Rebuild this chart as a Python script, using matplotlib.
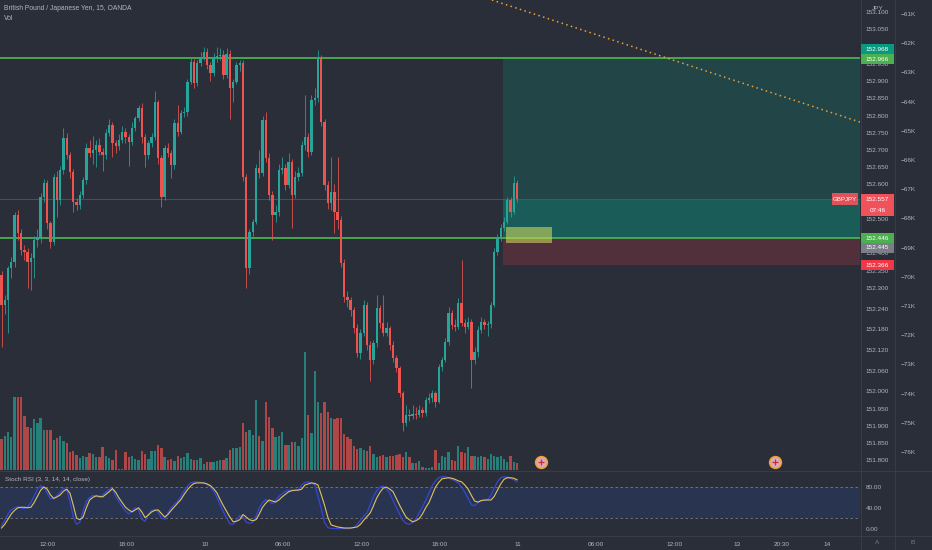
import matplotlib
matplotlib.use("Agg")
import matplotlib.pyplot as plt
import matplotlib.transforms as mtransforms
from matplotlib.patches import Rectangle
from matplotlib.lines import Line2D
import numpy as np

plt.rcParams['font.family'] = ['Liberation Sans', 'DejaVu Sans']

BG = '#2a2e39'
TXT = '#b2b5be'
UP = '#26a69a'
DN = '#ef5350'
LINE = '#3b3f4b'

# ---- GBPJPY 15m candles ----
first_open = 152.338
closes = [
    152.251, 152.265, 152.358, 152.375, 152.512, 152.459, 152.410, 152.404, 152.375, 152.387,
    152.439, 152.445, 152.564, 152.604, 152.488, 152.433, 152.622, 152.555, 152.642, 152.735,
    152.686, 152.636, 152.549, 152.541, 152.570, 152.613, 152.706, 152.691, 152.700, 152.714,
    152.694, 152.686, 152.749, 152.772, 152.720, 152.712, 152.729, 152.752, 152.738, 152.723,
    152.764, 152.793, 152.822, 152.738, 152.686, 152.720, 152.738, 152.839, 152.677, 152.564,
    152.706, 152.691, 152.657, 152.778, 152.752, 152.807, 152.810, 152.897, 152.955, 152.894,
    152.952, 152.967, 152.984, 152.946, 152.923, 152.967, 152.972, 152.975, 152.917, 152.978,
    152.880, 152.897, 152.946, 152.952, 152.622, 152.358, 152.462, 152.491, 152.648, 152.633,
    152.787, 152.677, 152.570, 152.512, 152.520, 152.642, 152.648, 152.599, 152.665, 152.570,
    152.622, 152.633, 152.714, 152.738, 152.694, 152.845, 152.851, 152.967, 152.781, 152.599,
    152.546, 152.578, 152.520, 152.497, 152.372, 152.274, 152.265, 152.236, 152.184, 152.112,
    152.170, 152.251, 152.135, 152.091, 152.141, 152.242, 152.199, 152.170, 152.184, 152.135,
    152.097, 152.068, 151.996, 151.909, 151.932, 151.930, 151.935, 151.932, 151.946, 151.938,
    151.975, 151.981, 151.996, 151.970, 152.071, 152.091, 152.143, 152.228, 152.193, 152.187,
    152.257, 152.199, 152.187, 152.201, 152.091, 152.114, 152.178, 152.201, 152.193, 152.195,
    152.251, 152.404, 152.445, 152.474, 152.491, 152.555, 152.520, 152.604, 152.557,
]
highs = [
    152.350, 152.280, 152.365, 152.390, 152.520, 152.525, 152.470, 152.425, 152.415, 152.400,
    152.450, 152.470, 152.575, 152.615, 152.612, 152.495, 152.630, 152.640, 152.655, 152.765,
    152.748, 152.695, 152.645, 152.560, 152.580, 152.622, 152.720, 152.730, 152.740, 152.730,
    152.735, 152.705, 152.760, 152.790, 152.782, 152.730, 152.745, 152.770, 152.765, 152.745,
    152.780, 152.800, 152.830, 152.835, 152.745, 152.730, 152.750, 152.870, 152.845, 152.685,
    152.715, 152.720, 152.700, 152.790, 152.830, 152.815, 152.825, 152.905, 152.970, 152.965,
    152.960, 152.985, 153.000, 152.995, 152.955, 152.980, 152.998, 152.995, 152.990, 152.995,
    152.990, 152.905, 152.955, 152.960, 152.960, 152.630, 152.470, 152.500, 152.660, 152.700,
    152.800, 152.810, 152.690, 152.580, 152.540, 152.660, 152.680, 152.660, 152.690, 152.675,
    152.640, 152.650, 152.725, 152.860, 152.750, 152.860, 152.880, 152.990, 152.975, 152.790,
    152.610, 152.680, 152.600, 152.680, 152.510, 152.385, 152.290, 152.275, 152.245, 152.195,
    152.180, 152.265, 152.260, 152.145, 152.150, 152.280, 152.250, 152.280, 152.200, 152.190,
    152.145, 152.105, 152.075, 152.000, 151.960, 151.950, 151.960, 151.955, 151.960, 151.955,
    151.985, 151.995, 152.005, 152.000, 152.080, 152.100, 152.155, 152.245, 152.235, 152.210,
    152.270, 152.380, 152.210, 152.215, 152.210, 152.130, 152.190, 152.215, 152.210, 152.205,
    152.260, 152.415, 152.455, 152.485, 152.505, 152.565, 152.565, 152.625, 152.612,
]
lows = [
    152.130, 152.225, 152.170, 152.330, 152.360, 152.440, 152.395, 152.380, 152.300, 152.295,
    152.330, 152.420, 152.430, 152.550, 152.470, 152.415, 152.425, 152.505, 152.540, 152.630,
    152.675, 152.620, 152.520, 152.525, 152.530, 152.560, 152.600, 152.680, 152.660, 152.650,
    152.685, 152.640, 152.675, 152.740, 152.680, 152.690, 152.700, 152.720, 152.720, 152.655,
    152.715, 152.755, 152.785, 152.720, 152.650, 152.675, 152.710, 152.730, 152.660, 152.535,
    152.555, 152.680, 152.620, 152.645, 152.740, 152.745, 152.795, 152.800, 152.890, 152.880,
    152.885, 152.945, 152.960, 152.935, 152.900, 152.915, 152.955, 152.960, 152.905, 152.910,
    152.790, 152.840, 152.890, 152.930, 152.610, 152.300, 152.340, 152.450, 152.485, 152.620,
    152.625, 152.665, 152.555, 152.440, 152.490, 152.510, 152.630, 152.585, 152.590, 152.475,
    152.560, 152.610, 152.625, 152.700, 152.680, 152.685, 152.830, 152.840, 152.770, 152.585,
    152.530, 152.525, 152.460, 152.470, 152.360, 152.260, 152.245, 152.220, 152.170, 152.100,
    152.095, 152.160, 152.120, 152.030, 152.080, 152.130, 152.185, 152.160, 152.160, 152.120,
    152.085, 152.055, 151.985, 151.885, 151.900, 151.915, 151.920, 151.920, 151.925, 151.925,
    151.930, 151.965, 151.970, 151.955, 151.965, 152.060, 152.085, 152.135, 152.180, 152.175,
    152.180, 152.190, 152.170, 152.180, 152.010, 152.080, 152.100, 152.170, 152.180, 152.160,
    152.185, 152.245, 152.395, 152.435, 152.465, 152.485, 152.505, 152.515, 152.548,
]
volume = [
    31, 34, 38, 33, 73, 73, 73, 54, 43, 42, 51, 47, 52, 40, 40, 40, 30, 32, 34, 29,
    27, 18, 19, 15, 12, 14, 13, 17, 16, 13, 13, 23, 14, 12, 10, 20, 1, 1, 18, 13,
    14, 11, 10, 19, 16, 11, 19, 19, 25, 22, 13, 10, 11, 9, 14, 12, 13, 17, 11, 10,
    10, 12, 6, 8, 8, 8, 9, 10, 10, 12, 20, 22, 22, 23, 47, 38, 40, 35, 70, 34,
    29, 68, 53, 42, 33, 34, 38, 25, 25, 28, 28, 24, 32, 118, 55, 37, 99, 68, 57, 68,
    58, 52, 51, 52, 52, 36, 33, 31, 24, 21, 22, 20, 19, 24, 16, 13, 14, 15, 13, 14,
    14, 15, 16, 13, 18, 13, 7, 7, 9, 3, 2, 2, 3, 20, 7, 14, 13, 18, 10, 9,
    24, 18, 17, 23, 14, 14, 13, 14, 13, 11, 16, 14, 13, 14, 11, 8, 14, 8, 7,
]

# ---- Stoch RSI (3, 3, 14, 14, close) ----
stoch_k = [
    5, 16, 28, 36, 40, 42, 40, 38, 42, 50, 63, 76, 83, 80, 68, 57, 58, 64, 70, 78,
    74, 52, 22, 8, 12, 34, 52, 60, 64, 63, 60, 65, 70, 76, 76, 62, 52, 42, 34, 28,
    34, 40, 36, 18, 14, 28, 35, 37, 32, 20, 18, 30, 40, 47, 53, 62, 73, 82, 88, 90,
    90, 89, 88, 85, 80, 72, 60, 46, 32, 20, 9, 8, 16, 25, 22, 12, 10, 12, 24, 40,
    50, 56, 52, 48, 54, 62, 67, 72, 74, 74, 73, 75, 84, 89, 90, 88, 84, 62, 38, 12,
    2, 0, 0, 0, 0, 0, 0, 0, 2, 8, 16, 24, 30, 46, 62, 73, 80, 82, 76, 68,
    54, 40, 28, 16, 10, 8, 12, 18, 30, 42, 54, 68, 83, 92, 98, 100, 100, 98, 95, 92,
    88, 80, 70, 58, 46, 44, 50, 53, 54, 56, 64, 78, 90, 98, 100, 99, 97, 94, 90,
]
stoch_d = [
    1, 8, 18, 28, 35, 40, 41, 41, 40, 41, 50, 62, 74, 80, 76, 65, 58, 61, 65, 72,
    76, 68, 45, 20, 17, 22, 40, 55, 60, 63, 62, 61, 66, 71, 77, 70, 59, 50, 41, 36,
    32, 36, 40, 32, 21, 26, 32, 35, 36, 29, 22, 27, 35, 42, 49, 56, 66, 75, 82, 87,
    88, 88, 88, 86, 83, 77, 69, 56, 44, 33, 22, 13, 14, 17, 27, 22, 17, 15, 17, 28,
    41, 49, 55, 53, 51, 55, 61, 66, 71, 73, 74, 74, 76, 84, 86, 88, 87, 84, 65, 45,
    22, 7, 5, 3, 2, 1, 1, 1, 2, 3, 8, 16, 23, 30, 44, 59, 70, 78, 80, 76,
    71, 58, 45, 33, 22, 17, 13, 15, 19, 28, 40, 50, 65, 80, 89, 96, 97, 98, 97, 95,
    92, 90, 84, 76, 64, 53, 51, 54, 55, 55, 55, 62, 74, 86, 95, 98, 98, 97, 94,
]

price_ticks = [153.100, 153.050, 152.950, 152.900, 152.850, 152.800, 152.750, 152.700,
               152.650, 152.600, 152.500, 152.400, 152.350, 152.300, 152.240, 152.180,
               152.120, 152.060, 152.000, 151.950, 151.900, 151.850, 151.800]
vol_scale_ticks = list(range(-76, -60))
stoch_ticks = [0, 40, 80]
time_ticks = [14.25, 38.25, 62.25, 86.25, 110.25, 134.25, 158.25, 182.25, 206.25, 225.5, 239.2, 253.0]
time_labels = ['12:00', '18:00', '10', '06:00', '12:00', '18:00', '11', '06:00', '12:00', '13', '20:30', '14']

# drawings
resistance = 152.966
support = 152.446
target = 152.968
entry = 152.446
stop = 152.366
avg_tag = 152.445
last_price = 152.557
countdown = '07:46'
pos_start = 153.6
box_x = (154.6, 168.7)
box_p = (152.430, 152.477)
trend_a = (150.3, 153.135)
trend_b = (263.1, 152.781)
events = [165.3, 237.0]

# ---- layout ----
W, H = 932, 550
PLOT_R = 860
PRICE_B = 470
fig = plt.figure(figsize=(W / 100, H / 100), dpi=100, facecolor=BG)


def frac(x0, y0, x1, y1):
    return [x0 / W, 1 - y1 / H, (x1 - x0) / W, (y1 - y0) / H]


ax = fig.add_axes(frac(0, 0, PLOT_R, PRICE_B))
axv = ax.twinx()
axk = ax.twinx()
ax.set_zorder(3)
axk.set_zorder(2)
axv.set_zorder(1)
ax.patch.set_visible(False)

n = len(closes)
idx = np.arange(n)
c = np.array(closes)
o = np.array([first_open] + closes[:-1])
hi = np.maximum(np.array(highs), np.maximum(o, c))
lo = np.minimum(np.array(lows), np.minimum(o, c))
up = c >= o
col = np.where(up, UP, DN)

xlim = (-0.46, 263.1)
ylim = (151.772, 153.135)
ax.set_xlim(*xlim)
ax.set_ylim(*ylim)
ppp = PRICE_B / (ylim[1] - ylim[0])  # pixels per price unit

# position zones
span = xlim[1] + 5 - pos_start
ax.add_patch(Rectangle((pos_start, entry), span, target - entry, facecolor='#089981',
                       alpha=0.22, lw=0, zorder=1))
ax.add_patch(Rectangle((pos_start, entry), span, last_price - entry, facecolor='#089981',
                       alpha=0.28, lw=0, zorder=1))
ax.add_patch(Rectangle((pos_start, stop), span, entry - stop, facecolor='#f23645',
                       alpha=0.2, lw=0, zorder=1))

ax.axhline(last_price, color='#6a4c55', lw=0.6, zorder=1.5)
ax.axhline(resistance, color='#4caf50', lw=1.3, zorder=2)
ax.axhline(support, color='#4caf50', lw=1.3, zorder=2)

# candles
ax.vlines(idx, lo, hi, colors=col, lw=0.55, zorder=3)
body = np.maximum(np.abs(c - o), 0.002)
ax.bar(idx, body, bottom=np.minimum(o, c), width=0.72, color=col, lw=0, zorder=3.1)

ax.add_patch(Rectangle((box_x[0], box_p[0]), box_x[1] - box_x[0], box_p[1] - box_p[0],
                       facecolor='#c9d65c', alpha=0.6, lw=0, zorder=3.5))

ax.axline(trend_a, trend_b, color='#f0a030', lw=1.1, ls=(0, (1, 2.2)), zorder=2)

# events (UK flag markers)
for e in events:
    ax.plot(e, 0.016, marker='o', ms=8.5, mfc='#d9a9b8', mec='#f0a030', mew=1.1,
            transform=ax.get_xaxis_transform(), clip_on=False, zorder=5)
    ax.plot(e, 0.016, marker='+', ms=4.5, mec='#c0303a', mew=0.9,
            transform=ax.get_xaxis_transform(), clip_on=False, zorder=6)

# price scale
ax.yaxis.tick_right()
ax.set_yticks(price_ticks, [f'{p:.3f}' for p in price_ticks])
ax.tick_params(axis='y', length=0, pad=4.3, labelsize=4.6, labelcolor=TXT)
ax.tick_params(axis='x', bottom=False, labelbottom=False)
for s in ax.spines.values():
    s.set_visible(False)

# volume overlay
axv.bar(idx, volume, width=0.72, color=col, alpha=0.68, lw=0)
axv.set_ylim(0, PRICE_B)
axv.set_yticks([])
for s in axv.spines.values():
    s.set_visible(False)

# volume scale labels
axk.set_ylim(-76.62, -60.52)
axk.set_yticks(vol_scale_ticks, [f'\u2212{abs(v)}K' for v in vol_scale_ticks])
axk.tick_params(axis='y', length=0, pad=29, labelsize=4.6, labelcolor=TXT)
for s in axk.spines.values():
    s.set_visible(False)

# price tags on the scale (shift_px > 0 moves the tag down)
blend = mtransforms.blended_transform_factory(ax.transAxes, ax.transData)


def tag(price, text, color, shift_px=0.0, two_lines=False):
    center = price - shift_px / ppp
    hgt = (22 if two_lines else 10) / ppp
    top = center + 5 / ppp
    ax.add_patch(Rectangle((861 / PLOT_R, top - hgt), 33 / PLOT_R, hgt, transform=blend,
                           facecolor=color, lw=0, clip_on=False, zorder=8))
    ax.text(877.5 / PLOT_R, center, text, transform=blend, fontsize=4.6,
            color='white', ha='center', va='center', clip_on=False, zorder=9)


tag(resistance, f'{resistance:.3f}', '#4caf50', shift_px=1)
tag(target, f'{target:.3f}', '#089981', shift_px=-8.5)
tag(stop, f'{stop:.3f}', '#f23645', shift_px=0)
tag(avg_tag, f'{avg_tag:.3f}', '#7b7e88', shift_px=10)
tag(entry, f'{entry:.3f}', '#4caf50', shift_px=0.5)
tag(last_price, f'{last_price:.3f}', '#f0525c', two_lines=True)
ax.text(877.5 / PLOT_R, last_price - 11 / ppp, countdown, transform=blend, fontsize=4.6,
        color='white', ha='center', va='center', clip_on=False, zorder=9)
ax.add_patch(Rectangle((832 / PLOT_R, last_price - 6 / ppp), 26 / PLOT_R, 12 / ppp,
                       transform=blend, facecolor='#e0525a', lw=0, clip_on=False, zorder=8))
ax.text(845 / PLOT_R, last_price, 'GBPJPY', transform=blend, fontsize=4.4, color='white',
        ha='center', va='center', zorder=9)

# ---- Stoch RSI pane ----
axs = fig.add_axes(frac(0, 471, PLOT_R, 535))
axs.patch.set_visible(False)
axs.set_xlim(*xlim)
axs.set_ylim(-12.5, 111)
axs.axhspan(20, 80, color='#2962ff', alpha=0.12, lw=0)
axs.axhline(80, color='#787b86', lw=0.6, ls=(0, (3, 3)))
axs.axhline(20, color='#787b86', lw=0.6, ls=(0, (3, 3)))
axs.plot(idx, stoch_k, color='#3448d6', lw=0.9)
axs.plot(idx, stoch_d, color='#e2c25e', lw=0.8)
axs.yaxis.tick_right()
axs.set_yticks(stoch_ticks, [f'{v:.2f}' for v in stoch_ticks])
axs.tick_params(axis='y', length=0, pad=4.3, labelsize=4.6, labelcolor=TXT)
axs.set_xticks(time_ticks, time_labels)
axs.tick_params(axis='x', length=0, pad=5, labelsize=4.6, labelcolor=TXT)
for s in axs.spines.values():
    s.set_visible(False)

# texts
fig.text(4 / W, 1 - 9 / H, 'British Pound / Japanese Yen, 15, OANDA', fontsize=4.9,
         color=TXT, va='center')
fig.text(4 / W, 1 - 19 / H, 'Vol', fontsize=4.9, color=TXT, va='center')
fig.text(5 / W, 1 - 480 / H, 'Stoch RSI (3, 3, 14, 14, close)', fontsize=4.6,
         color=TXT, va='center')
fig.text(878 / W, 1 - 8 / H, 'JPY', fontsize=4.6, color=TXT, ha='center', va='center')
fig.text(877 / W, 1 - 543 / H, 'A', fontsize=4.6, color='#787b86', ha='center', va='center')
fig.text(913 / W, 1 - 543 / H, 'B', fontsize=4.6, color='#787b86', ha='center', va='center')

# separators
for (x0, y0, x1, y1) in [(0, 470.5, W, 470.5), (0, 535.5, W, 535.5),
                         (860.5, 0, 860.5, H), (894.5, 0, 894.5, H)]:
    fig.add_artist(Line2D([x0 / W, x1 / W], [1 - y0 / H, 1 - y1 / H], color=LINE, lw=0.6,
                          transform=fig.transFigure))

fig.savefig('out.png', dpi=100, facecolor=BG)
